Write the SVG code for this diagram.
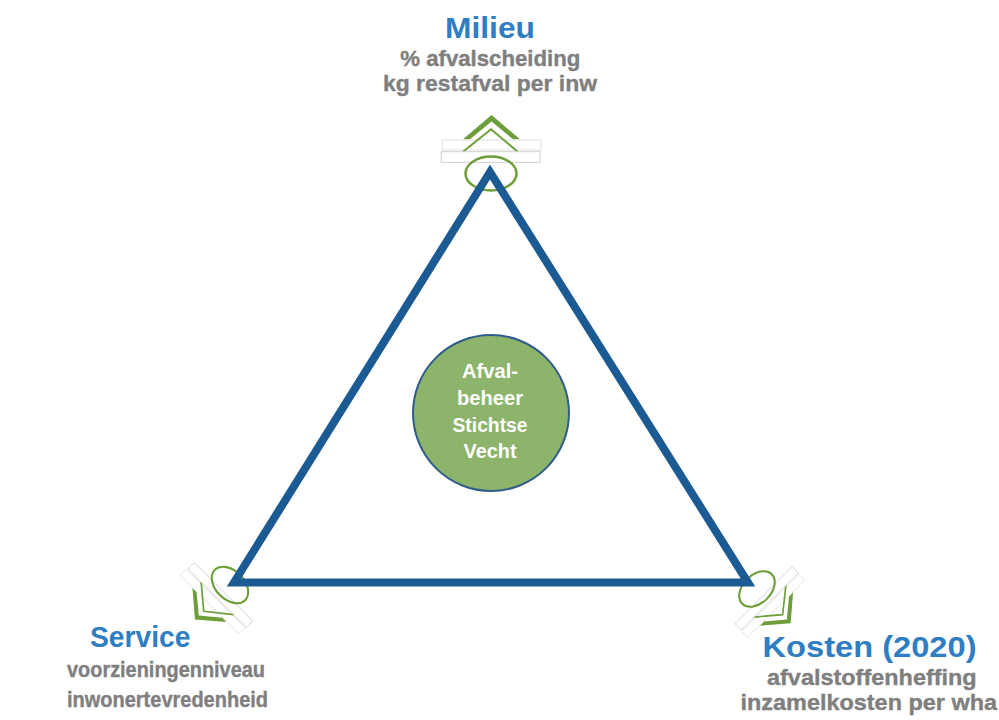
<svg xmlns="http://www.w3.org/2000/svg" width="999" height="720" viewBox="0 0 999 720">
  <style>
    .title { font-family: "Liberation Sans", Arial, sans-serif; font-weight: bold; font-size: 30px; fill: #2F7DC3; }
    .sub { font-family: "Liberation Sans", Arial, sans-serif; font-weight: bold; font-size: 22.5px; fill: #7F7F7F; stroke: #7F7F7F; stroke-width: 0.4; }
    .ctext { font-family: "Liberation Sans", Arial, sans-serif; font-weight: bold; font-size: 19.5px; fill: #FFFFFF; text-anchor: middle; }
    .chev { fill: #6E9E3A; stroke: none; }
    .chevthin { fill: none; stroke: #6E9E3A; stroke-width: 2; }
    .ell { fill: none; stroke: #6E9E3A; stroke-width: 2.5; }
    .box1 { fill: #FFFFFF; stroke: #E0E0E0; stroke-width: 1; }
    .box2 { fill: #FFFFFF; stroke: #CFCFCF; stroke-width: 1; }
  </style>
  <defs>
    <g id="marker-sym">
      <polygon class="chev" points="-28,-34.2 0.5,-58.5 29,-34.2 22,-34.2 0.5,-52 -21,-34.2"/>
      <rect class="box1" x="-48.7" y="-33.5" width="98.7" height="10"/>
      <polyline class="chevthin" points="-28,-21.8 0,-44.2 26.7,-21.8"/>
      <rect class="box2" x="-49.7" y="-21.8" width="98.7" height="10.6"/>
      <ellipse class="ell" cx="0" cy="0" rx="25.5" ry="17"/>
    </g>
  </defs>
  <rect width="999" height="720" fill="#FFFFFF"/>

  <g id="connectors">
    <use href="#marker-sym" transform="translate(491,173.5)"/>
    <use href="#marker-sym" transform="translate(230,585) rotate(-135) scale(0.84)"/>
    <use href="#marker-sym" transform="translate(757,589) rotate(135) scale(0.82)"/>
    <polygon points="490,172 234,582.5 748,582.5" fill="none" stroke="#1C5A94" stroke-width="8" stroke-linejoin="miter"/>
  </g>

  <g id="node-center">
    <circle cx="491" cy="413" r="78" fill="#8CB46A" stroke="#2F5C8A" stroke-width="2"/>
    <text class="ctext" x="490" y="378.3" textLength="56" lengthAdjust="spacingAndGlyphs">Afval-</text>
    <text class="ctext" x="490" y="405" textLength="66" lengthAdjust="spacingAndGlyphs">beheer</text>
    <text class="ctext" x="490" y="431.7" textLength="75" lengthAdjust="spacingAndGlyphs">Stichtse</text>
    <text class="ctext" x="490" y="458.3" textLength="53" lengthAdjust="spacingAndGlyphs">Vecht</text>
  </g>

  <g id="node-milieu">
    <text class="title" x="490" y="38" text-anchor="middle" font-size="32" textLength="90" lengthAdjust="spacingAndGlyphs">Milieu</text>
    <text class="sub" x="490.3" y="65.7" text-anchor="middle" textLength="180" lengthAdjust="spacingAndGlyphs">% afvalscheiding</text>
    <text class="sub" x="490" y="90.7" text-anchor="middle" textLength="214" lengthAdjust="spacingAndGlyphs">kg restafval per inw</text>
  </g>

  <g id="node-service">
    <text class="title" x="90" y="646.7" textLength="100.5" lengthAdjust="spacingAndGlyphs">Service</text>
    <text class="sub" x="67" y="676.7" textLength="198" lengthAdjust="spacingAndGlyphs">voorzieningenniveau</text>
    <text class="sub" x="67" y="706.7" textLength="201" lengthAdjust="spacingAndGlyphs">inwonertevredenheid</text>
  </g>

  <g id="node-kosten">
    <text class="title" x="762.5" y="657" textLength="214" lengthAdjust="spacingAndGlyphs">Kosten (2020)</text>
    <text class="sub" x="767" y="685" textLength="209.7" lengthAdjust="spacingAndGlyphs">afvalstoffenheffing</text>
    <text class="sub" x="740.5" y="710" textLength="256.5" lengthAdjust="spacingAndGlyphs">inzamelkosten per wha</text>
  </g>
</svg>
